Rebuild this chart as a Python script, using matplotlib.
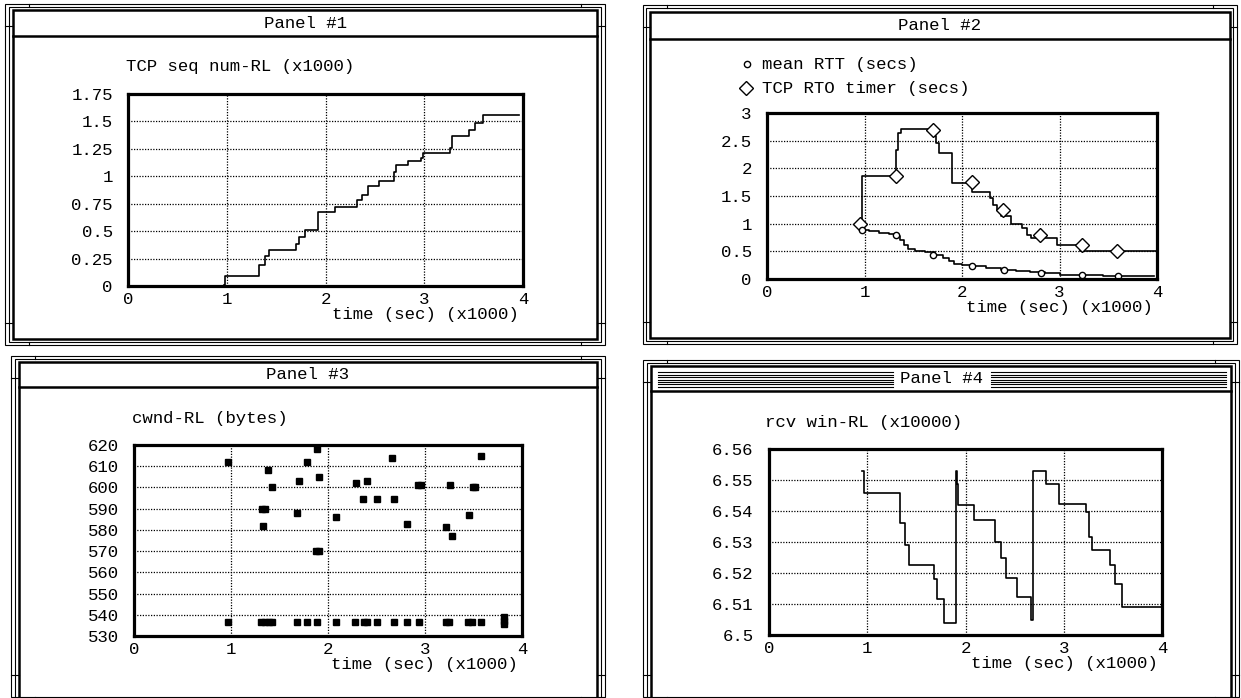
# ============================================================
# TCP trace panels (4 windows) - recreation
# ============================================================

import matplotlib
matplotlib.use("Agg")
import matplotlib.pyplot as plt
from matplotlib.lines import Line2D
from matplotlib.patches import Rectangle

# ============================================================
# 1. DATA (time in x1000 sec)
# ============================================================

# Panel 1 - TCP seq num-RL (x1000), step trace
seq_t = [0.97, 0.98, 1.33, 1.39, 1.43, 1.70, 1.73, 1.79, 1.92, 2.10, 2.32, 2.37,
         2.43, 2.54, 2.69, 2.71, 2.84, 2.97, 2.99, 3.26, 3.28, 3.45, 3.51, 3.59, 3.96]
seq_v = [0.01, 0.09, 0.19, 0.27, 0.33, 0.38, 0.45, 0.51, 0.67, 0.72, 0.78, 0.83,
         0.91, 0.96, 1.04, 1.10, 1.14, 1.17, 1.21, 1.26, 1.37, 1.42, 1.49, 1.56, 1.56]

# Panel 2 - TCP RTO timer (secs)
rto_t = [0.95, 0.97, 1.32, 1.34, 1.37, 1.71, 1.73, 1.76, 1.90, 2.10, 2.29, 2.32,
         2.36, 2.40, 2.50, 2.62, 2.67, 2.71, 2.97, 3.19, 3.21, 4.00]
rto_v = [1.00, 1.86, 2.33, 2.64, 2.71, 2.59, 2.45, 2.28, 1.74, 1.58, 1.46, 1.34,
         1.25, 1.13, 1.00, 0.92, 0.80, 0.74, 0.61, 0.57, 0.51, 0.51]
rto_mark_t = [0.95, 1.32, 1.70, 2.10, 2.42, 2.80, 3.23, 3.59]
rto_mark_v = [1.00, 1.86, 2.69, 1.75, 1.25, 0.79, 0.62, 0.50]

# Panel 2 - mean RTT (secs)
rtt_t = [0.97, 1.05, 1.15, 1.25, 1.32, 1.36, 1.40, 1.45, 1.52, 1.62, 1.72, 1.80,
         1.87, 1.92, 2.00, 2.12, 2.25, 2.40, 2.55, 2.70, 2.85, 3.00, 3.20, 3.45, 3.97]
rtt_v = [0.88, 0.86, 0.84, 0.81, 0.78, 0.70, 0.62, 0.55, 0.51, 0.48, 0.43, 0.38,
         0.33, 0.28, 0.26, 0.23, 0.20, 0.17, 0.14, 0.12, 0.10, 0.08, 0.07, 0.06, 0.06]
rtt_mark_t = [0.97, 1.32, 1.70, 2.10, 2.43, 2.81, 3.23, 3.60]
rtt_mark_v = [0.88, 0.79, 0.44, 0.23, 0.16, 0.11, 0.07, 0.06]

# Panel 3 - cwnd-RL (bytes), scattered samples
cwnd_t = [0.97, 1.32, 1.35, 1.33, 1.38, 1.42, 1.68, 1.70, 1.78, 1.88, 1.91, 1.89,
          1.91, 2.08, 2.29, 2.40, 2.36, 2.51, 2.68, 2.66, 2.81, 2.93, 2.96, 3.22,
          3.28, 3.26, 3.45, 3.49, 3.52, 3.58,
          0.97, 1.31, 1.35, 1.39, 1.42, 1.68, 1.78, 1.89, 2.08, 2.28, 2.37, 2.40,
          2.51, 2.68, 2.81, 2.94, 3.22, 3.25, 3.44, 3.48, 3.58, 3.81, 3.81, 3.81]
cwnd_v = [612, 590, 590, 582, 608, 600, 588, 603, 612, 570, 570, 618,
          605, 586, 602, 603, 594.5, 594.5, 594.5, 614, 583, 601, 601, 581.5,
          577, 601, 587, 600, 600, 615,
          536.5, 536.5, 536.5, 536.5, 536.5, 536.5, 536.5, 536.5, 536.5, 536.5, 536.5, 536.5,
          536.5, 536.5, 536.5, 536.5, 536.5, 536.5, 536.5, 536.5, 536.5, 535.5, 537.3, 539.0]

# Panel 4 - rcv win-RL (x10000)
rcv_t = [0.95, 0.97, 1.33, 1.38, 1.42, 1.68, 1.71, 1.78, 1.90, 1.91, 1.92, 2.09,
         2.30, 2.36, 2.41, 2.52, 2.67, 2.69, 2.82, 2.95, 3.23, 3.26, 3.29, 3.47,
         3.52, 3.59, 3.99]
rcv_v = [6.553, 6.5458, 6.536, 6.529, 6.5226, 6.518, 6.5116, 6.5038, 6.553, 6.5487,
         6.542, 6.537, 6.530, 6.5248, 6.5183, 6.5124, 6.505, 6.553, 6.5487, 6.5423,
         6.5396, 6.5315, 6.5275, 6.5226, 6.5165, 6.5089, 6.5089]

x_ticks = [0, 1, 2, 3, 4]
p1_yticks = [0, 0.25, 0.5, 0.75, 1, 1.25, 1.5, 1.75]
p1_ylabels = ["0", "0.25", "0.5", "0.75", "1", "1.25", "1.5", "1.75"]
p2_yticks = [0, 0.5, 1, 1.5, 2, 2.5, 3]
p2_ylabels = ["0", "0.5", "1", "1.5", "2", "2.5", "3"]
p3_yticks = [530, 540, 550, 560, 570, 580, 590, 600, 610, 620]
p4_yticks = [6.5, 6.51, 6.52, 6.53, 6.54, 6.55, 6.56]
p4_ylabels = ["6.5", "6.51", "6.52", "6.53", "6.54", "6.55", "6.56"]

# ============================================================
# 2. FIGURE + HELPERS (pixel coords, origin top-left)
# ============================================================

W, H = 1241, 698
plt.rcParams['font.family'] = ['Liberation Mono', 'DejaVu Sans Mono']
plt.rcParams['font.size'] = 12.5

fig = plt.figure(figsize=(W / 100, H / 100), dpi=100)


def fx(x):
    return x / W


def fy(y):
    return 1 - y / H


def add_line(x0, y0, x1, y1, lw=0.8):
    fig.add_artist(Line2D([fx(x0), fx(x1)], [fy(y0), fy(y1)], color="black",
                          lw=lw, transform=fig.transFigure))


def add_box(x0, y0, x1, y1, lw=0.8):
    fig.add_artist(Rectangle((fx(x0), fy(y1)), fx(x1) - fx(x0), fy(y0) - fy(y1),
                             fill=False, edgecolor="black", lw=lw,
                             transform=fig.transFigure))


def draw_window(outer, mid, inner, bar_bottom, title, active=False):
    add_box(*outer)
    add_box(*mid)
    add_box(*inner, lw=1.8)
    add_line(inner[0], bar_bottom, inner[2], bar_bottom, lw=1.8)
    # resize handles
    for x in (outer[0] + 24, outer[2] - 24):
        add_line(x, outer[1], x, mid[1])
        add_line(x, outer[3], x, mid[3])
    for y in (outer[1] + 22, outer[3] - 22):
        add_line(outer[0], y, inner[0], y)
        add_line(outer[2], y, inner[2], y)
    cx = (inner[0] + inner[2]) / 2
    cy = (inner[1] + bar_bottom) / 2
    if active:
        y = inner[1] + 6
        while y < bar_bottom - 3:
            add_line(inner[0] + 7, y, cx - 48, y, lw=0.8)
            add_line(cx + 50, y, inner[2] - 5, y, lw=0.8)
            y += 2.5
    fig.text(fx(cx), fy(cy), title, ha="center", va="center")


def make_axes(x0, y0, x1, y1, ylim, yticks, ylabels):
    ax = fig.add_axes([fx(x0), fy(y1), fx(x1) - fx(x0), fy(y0) - fy(y1)])
    ax.set_xlim(0, 4)
    ax.set_ylim(*ylim)
    ax.set_xticks(x_ticks)
    ax.set_xticklabels([str(t) for t in x_ticks])
    ax.set_yticks(yticks)
    ax.set_yticklabels(ylabels)
    ax.tick_params(axis="x", length=0, pad=4)
    ax.tick_params(axis="y", length=0, pad=11)
    for s in ax.spines.values():
        s.set_linewidth(2.3)
    ax.grid(True, color="black", linestyle=(0, (1, 1.2)), linewidth=0.9)
    ax.annotate("time (sec) (x1000)", xy=(1, 0), xycoords="axes fraction",
                xytext=(-3, -20.5), textcoords="offset points",
                ha="right", va="center")
    return ax


# ============================================================
# 3. WINDOW FRAMES
# ============================================================

draw_window((5, 4, 605, 345), (9, 7, 601, 342), (13, 10, 597, 339), 36, "Panel #1")
draw_window((643, 5, 1237, 344), (646, 8, 1233, 341), (650, 12, 1230, 338), 39, "Panel #2")
draw_window((11, 356, 605, 697), (15, 359, 601, 700), (19, 362, 597, 703), 387, "Panel #3")
draw_window((643, 360, 1239, 697), (647, 363, 1235, 700), (651, 366, 1231, 703), 391,
            "Panel #4", active=True)

# ============================================================
# 4. PANEL 1 - SEQ NUM
# ============================================================

ax1 = make_axes(128, 94, 523, 286, (0, 1.75), p1_yticks, p1_ylabels)
ax1.plot(seq_t, seq_v, drawstyle="steps-post", color="black", lw=1.2)
fig.text(fx(126), fy(66), "TCP seq num-RL (x1000)", ha="left", va="center")

# ============================================================
# 5. PANEL 2 - RTT / RTO
# ============================================================

ax2 = make_axes(767, 113, 1157, 279, (0, 3), p2_yticks, p2_ylabels)
ax2.plot(rto_t, rto_v, drawstyle="steps-post", color="black", lw=1.2)
ax2.plot(rtt_t, rtt_v, drawstyle="steps-post", color="black", lw=1.2)
ax2.plot(rto_mark_t, rto_mark_v, ls="none", marker="D", ms=7.5, mfc="white",
         mec="black", mew=1.0)
ax2.plot(rtt_mark_t, rtt_mark_v, ls="none", marker="o", ms=4.5, mfc="white",
         mec="black", mew=1.0)

fig.add_artist(Line2D([fx(747)], [fy(64)], ls="none", marker="o", ms=4.5, mfc="white",
                      mec="black", mew=1.0, transform=fig.transFigure))
fig.add_artist(Line2D([fx(746)], [fy(88)], ls="none", marker="D", ms=7.5, mfc="white",
                      mec="black", mew=1.0, transform=fig.transFigure))
fig.text(fx(762), fy(64), "mean RTT (secs)", ha="left", va="center")
fig.text(fx(762), fy(88), "TCP RTO timer (secs)", ha="left", va="center")

# ============================================================
# 6. PANEL 3 - CWND
# ============================================================

ax3 = make_axes(134, 445, 522, 636, (530, 620), p3_yticks, [str(v) for v in p3_yticks])
ax3.plot(cwnd_t, cwnd_v, ls="none", marker="s", ms=3.7, color="black")
fig.text(fx(132), fy(418), "cwnd-RL (bytes)", ha="left", va="center")

# ============================================================
# 7. PANEL 4 - RCV WIN
# ============================================================

ax4 = make_axes(769, 449, 1162, 635, (6.5, 6.56), p4_yticks, p4_ylabels)
ax4.plot(rcv_t, rcv_v, drawstyle="steps-post", color="black", lw=1.2)
fig.text(fx(765), fy(422), "rcv win-RL (x10000)", ha="left", va="center")

fig.savefig("out.png", dpi=100)
